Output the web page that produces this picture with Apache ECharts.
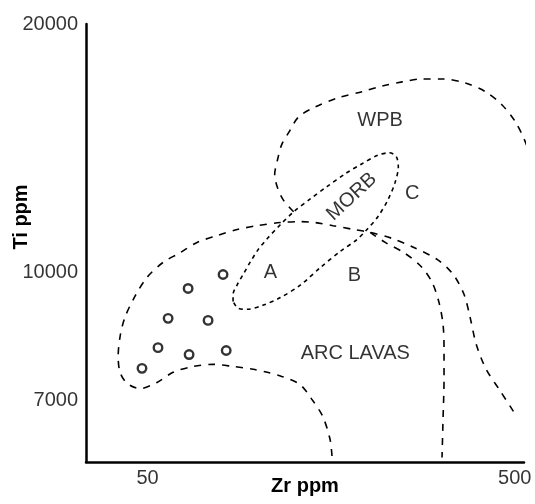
<!DOCTYPE html>
<html>
<head>
<meta charset="utf-8">
<script src="https://cdn.jsdelivr.net/npm/echarts@6/dist/echarts.min.js"></script>
<style>
  html, body { margin: 0; background: #fff; }
  #chart { width: 535px; height: 504px; }
</style>
</head>
<body>
<div id="chart"></div>
<script>
// Ti-Zr diagram, both axes logarithmic (ppm)
const xTicks = [50, 500];
const yTicks = [7000, 10000, 20000];

// boundaries, [Zr, Ti]
const wpbBoundary = [
  [125, 11850], [117, 12260], [113, 12670], [111, 13140], [113, 13700], [116, 14290],
  [122, 14850], [129, 15440], [143, 15870], [165, 16280], [192, 16560], [218, 16830],
  [247, 17020], [280, 17160], [319, 17160], [367, 16970], [416, 16560], [462, 15960],
  [502, 15230], [534, 14410], [558, 13590]
];
const morbBoundary = [
  [85.5, 9230], [85.5, 9410], [87.8, 9675], [91.1, 9950], [95.1, 10290], [100, 10660],
  [106, 11000], [115, 11430], [125, 11850], [139, 12290], [154, 12710], [173, 13180],
  [192, 13550], [211, 13860], [228, 13970], [238, 13820], [241, 13430], [236, 12850],
  [226, 12260], [212, 11690], [198, 11280], [186, 10970], [167, 10600], [148, 10150],
  [130, 9650], [115, 9330], [103, 9130], [93.4, 9030], [88.3, 9055], [85.5, 9230]
];
const arcBoundary = [
  [159, 6000], [157, 6290], [150, 6700], [140, 7030], [130, 7325], [116, 7490],
  [106, 7575], [97, 7640], [85.5, 7700], [75.4, 7745], [66.5, 7700], [58.7, 7575],
  [53.1, 7365], [47.7, 7240], [44, 7345], [42.1, 7575], [41.6, 7915], [42.1, 8370],
  [43.4, 8830], [46.2, 9360], [49.8, 9865], [55.1, 10290], [61.3, 10570], [68.2, 10880],
  [77.4, 11090], [87.8, 11280], [99.4, 11400], [115, 11500], [130, 11530], [143, 11500],
  [160, 11400], [182, 11280], [202, 11190], [232, 11000], [263, 10750], [308, 10370],
  [340, 9950], [364, 9410], [378, 8830], [393, 8185], [418, 7640], [454, 7220], [496, 6795]
];
const arcInnerBoundary = [
  [202, 11190], [222, 10880], [250, 10570], [278, 10175], [298, 9730], [311, 9205],
  [319, 8660], [321, 8070], [321, 7430], [319, 6650], [317, 5975]
];

// samples
const sampleZr = [80.3, 64.5, 56.9, 73.1, 53.4, 64.9, 81.9, 48.3];
const sampleTi = [9950, 9570, 8805, 8755, 8115, 7960, 8050, 7660];

// field names
const fieldNames = ['WPB', 'MORB', 'C', 'A', 'B', 'ARC LAVAS'];
const fieldZr = [215, 180, 263, 108, 183, 184];
const fieldTi = [15270, 12360, 12460, 10005, 9920, 7985];

const xMin = 34, xMax = 530, yMin = 5900, yMax = 20000;
const font = 'Liberation Sans, Arial, sans-serif';
const ink = '#000';

function boundary(data, dash) {
  return {
    type: 'line',
    data: data,
    smooth: 0.3,
    showSymbol: false,
    clip: false,
    silent: true,
    lineStyle: { color: ink, width: 1.6, type: dash }
  };
}

const chart = echarts.init(document.getElementById('chart'));
chart.setOption({
  animation: false,
  backgroundColor: '#fff',
  grid: { left: 86, right: 11, top: 24, bottom: 42 },
  xAxis: {
    type: 'log', logBase: 10, min: xMin, max: xMax,
    name: 'Zr ppm', nameLocation: 'middle', nameGap: 14,
    nameTextStyle: { fontSize: 20, fontWeight: 'bold', color: ink, fontFamily: font },
    axisLine: { show: true, lineStyle: { color: '#000', width: 2.5 } },
    axisTick: { show: false }, axisLabel: { show: false }, splitLine: { show: false }
  },
  yAxis: {
    type: 'log', logBase: 10, min: yMin, max: yMax,
    axisLine: { show: true, lineStyle: { color: '#000', width: 2.5 } },
    axisTick: { show: false }, axisLabel: { show: false }, splitLine: { show: false }
  },
  graphic: [{
    type: 'text', x: 21, y: 217, rotation: Math.PI / 2,
    style: { text: 'Ti ppm', font: 'bold 20px ' + font, fill: ink, align: 'center', verticalAlign: 'middle' }
  }],
  series: [
    boundary(wpbBoundary, [7, 7]),
    boundary(morbBoundary, [4, 4]),
    boundary(arcBoundary, [7, 7]),
    boundary(arcInnerBoundary, [7, 7]),
    {
      type: 'scatter',
      data: sampleZr.map((z, i) => [z, sampleTi[i]]),
      symbol: 'circle', symbolSize: 8.5,
      itemStyle: { color: '#fff', borderColor: '#000', borderWidth: 2.4 }
    },
    {
      type: 'scatter', symbolSize: 0, clip: false, silent: true,
      data: fieldNames.map((n, i) => ({
        name: n, value: [fieldZr[i], fieldTi[i]],
        label: { rotate: n === 'MORB' ? 43 : 0 }
      })),
      label: { show: true, position: 'inside', formatter: '{b}', fontSize: 20, color: ink, fontFamily: font }
    },
    {
      type: 'scatter', symbolSize: 0, clip: false, silent: true,
      data: xTicks.map(v => [v, yMin]),
      label: { show: true, position: 'bottom', distance: 6, formatter: p => String(p.value[0]),
        fontSize: 20, color: ink, fontFamily: font }
    },
    {
      type: 'scatter', symbolSize: 0, clip: false, silent: true,
      data: yTicks.map(v => [xMin, v]),
      label: { show: true, position: 'left', distance: 8, formatter: p => String(p.value[1]),
        fontSize: 20, color: ink, fontFamily: font }
    }
  ]
});
</script>
</body>
</html>
